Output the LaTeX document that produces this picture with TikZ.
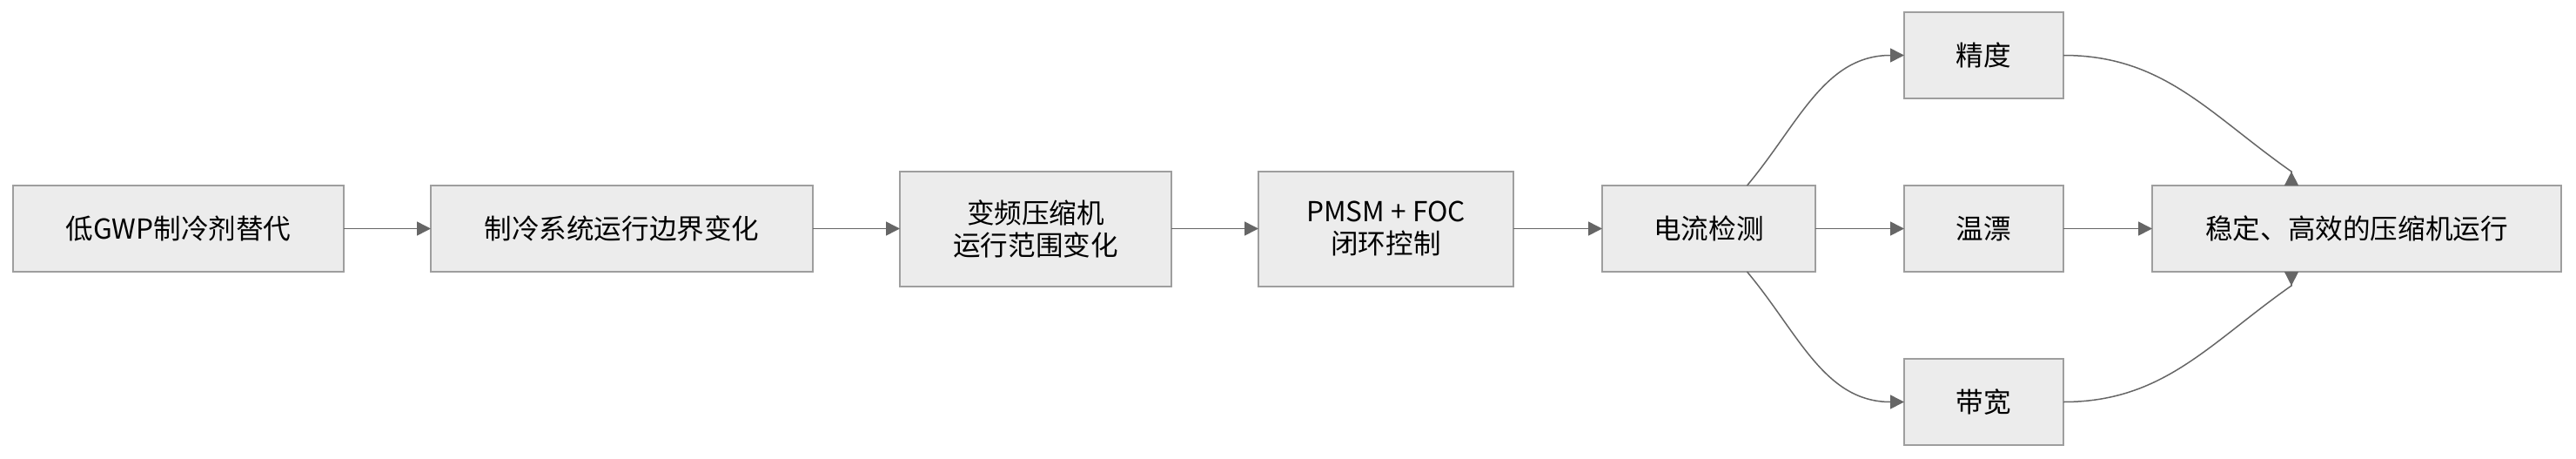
\documentclass[tikz,border=0pt]{standalone}
\usepackage{fontspec}
\setmainfont{Noto Sans CJK SC}
\usetikzlibrary{arrows.meta}
\usetikzlibrary{positioning}

\definecolor{boxfill}{HTML}{ECECEC}
\definecolor{boxline}{HTML}{9E9E9E}
\definecolor{linkline}{HTML}{666666}

\tikzset{
  block/.style={draw=boxline, fill=boxfill, line width=1pt, minimum height=49.5pt,
    inner sep=0pt, outer sep=0pt, align=center, font=\fontsize{15.8pt}{18.5pt}\selectfont},
  link/.style={linkline, line width=0.75pt, -{Triangle[length=8pt,width=8pt]}},
  backlink/.style={linkline, line width=0.75pt, -{Triangle[length=8pt,width=8pt,reversed]}}
}

\begin{document}
\begin{tikzpicture}
        [node distance=50pt]
        \useasboundingbox (-102.5pt,-131.75pt) rectangle (1377.5pt,131.25pt);
        \node [block, minimum width=190pt] (gwp) {低GWP制冷剂替代};
        \node [block, minimum width=219.5pt, right=of gwp] (boundary) {制冷系统运行边界变化};
        \node [block, minimum width=156pt, minimum height=66pt, right=of boundary] (range) {变频压缩机\\运行范围变化};
        \node [block, minimum width=146.5pt, minimum height=66pt, right=of range] (foc) {PMSM + FOC\\闭环控制};
        \node [block, minimum width=122.5pt, right=51pt of foc] (sense) {电流检测};
        \node [block, minimum width=91.5pt, right=51pt of sense] (drift) {温漂};
        \node [block, minimum width=91.5pt, above=of drift] (accuracy) {精度};
        \node [block, minimum width=91.5pt, below=of drift] (bandwidth) {带宽};
        \node [block, minimum width=235pt, right=51pt of drift] (stable) {稳定、高效的压缩机运行};

        \draw [link] (gwp) -- (boundary);
        \draw [link] (boundary) -- (range);
        \draw [link] (range) -- (foc);
        \draw [link] (foc) -- (sense);
        \draw [link] (sense) -- (drift);
        \draw [link] (drift) -- (stable);
        \draw [link] ([xshift=22pt]sense.north) to [out=50, in=180] (accuracy.west);
        \draw [link] ([xshift=22pt]sense.south) to [out=-50, in=180] (bandwidth.west);
        \draw [backlink] (accuracy.east) to [out=0, in=145] ([shift={(-37.5pt,8pt)}]stable.north)
            -- ([xshift=-37.5pt]stable.north);
        \draw [backlink] (bandwidth.east) to [out=0, in=-145] ([shift={(-37.5pt,-8pt)}]stable.south)
            -- ([xshift=-37.5pt]stable.south);
    \end{tikzpicture}
\end{document}
